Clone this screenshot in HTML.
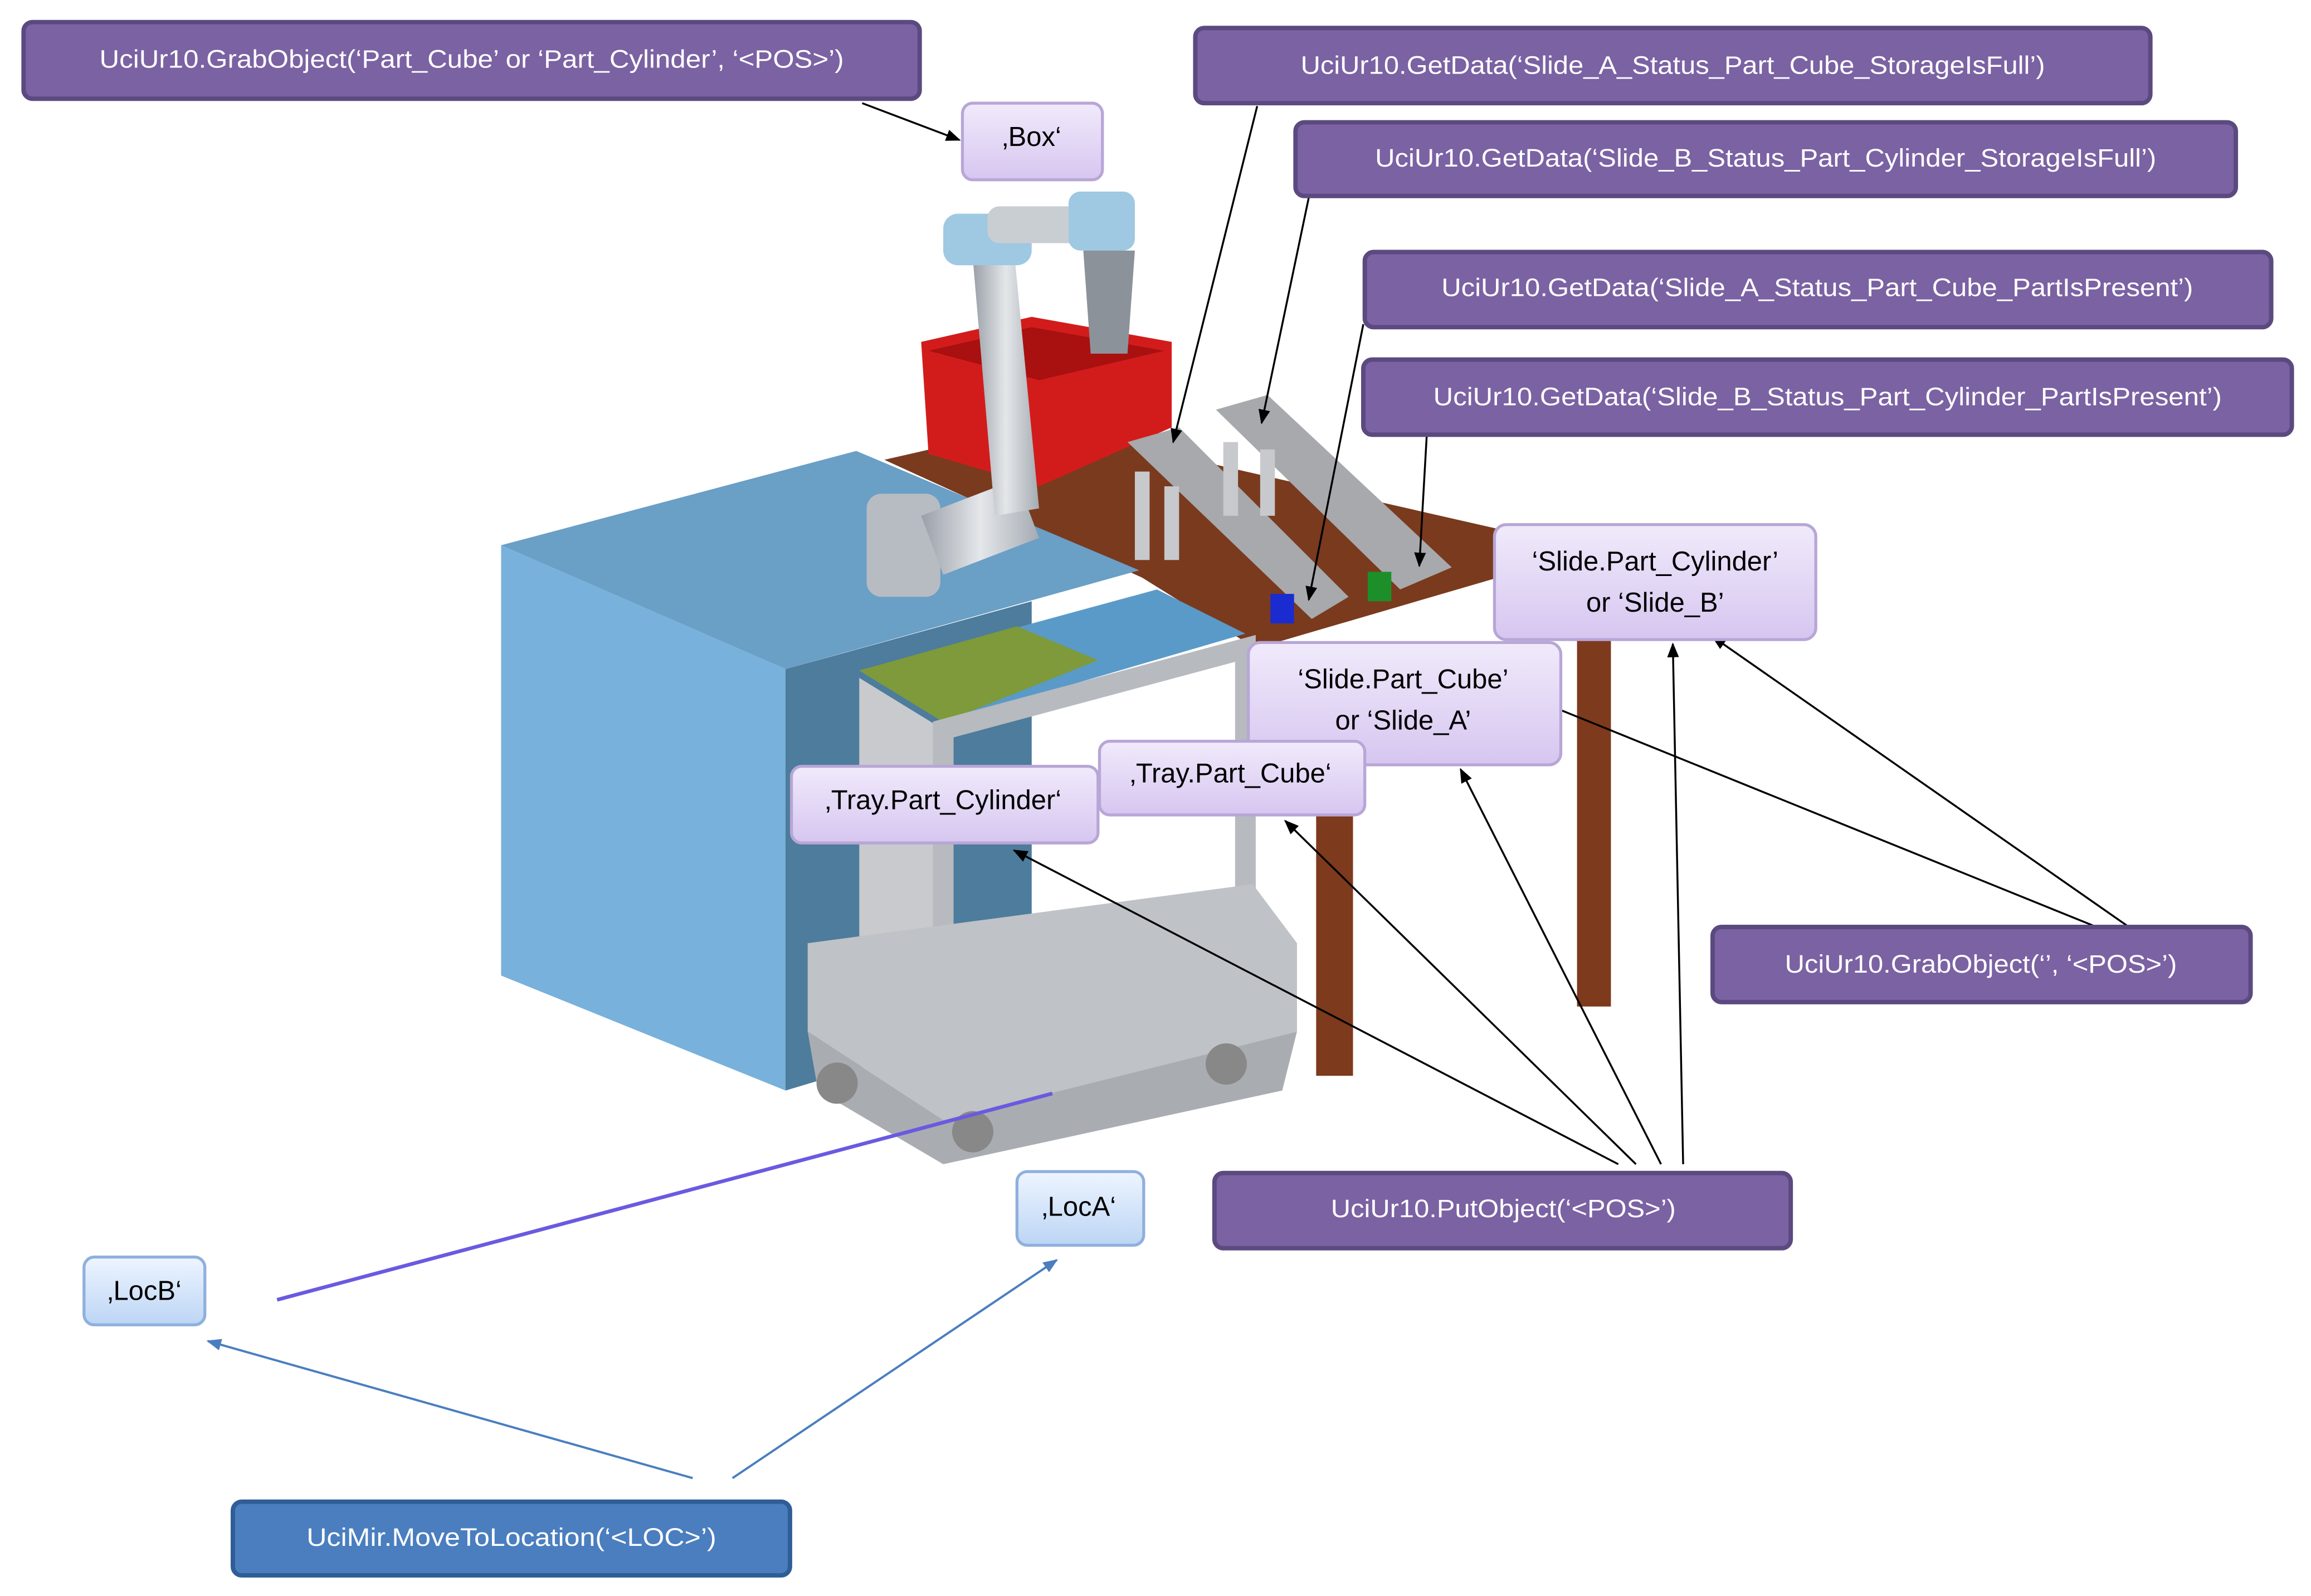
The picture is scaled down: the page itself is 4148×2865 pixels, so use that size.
<!DOCTYPE html>
<html><head><meta charset="utf-8"><style>
html,body{margin:0;padding:0;background:#fff;}
svg{display:block;}
text{font-family:"Liberation Sans",sans-serif;}
</style></head><body>
<svg width="4148" height="2865" viewBox="0 0 1568 1083" preserveAspectRatio="none" xmlns="http://www.w3.org/2000/svg">
<defs>
<marker id="ab" markerWidth="10" markerHeight="8" refX="9" refY="4" orient="auto" markerUnits="userSpaceOnUse"><path d="M0,0 L10,4 L0,8 z" fill="#000"/></marker>
<marker id="ablue" markerWidth="10" markerHeight="8" refX="9" refY="4" orient="auto" markerUnits="userSpaceOnUse"><path d="M0,0 L10,4 L0,8 z" fill="#4a7ebf"/></marker>
<linearGradient id="lp" x1="0" y1="0" x2="0" y2="1"><stop offset="0" stop-color="#f1eafb"/><stop offset="1" stop-color="#d6c6f0"/></linearGradient>
<linearGradient id="lb" x1="0" y1="0" x2="0" y2="1"><stop offset="0" stop-color="#eef5ff"/><stop offset="1" stop-color="#bcd5f5"/></linearGradient>
<linearGradient id="tube" x1="0" y1="0" x2="1" y2="0"><stop offset="0" stop-color="#9aa0a8"/><stop offset="0.5" stop-color="#e4e7ea"/><stop offset="1" stop-color="#a5abb2"/></linearGradient>
</defs>

<!-- table -->
<polygon points="600,312 705,288 1030,362 1040,385 852,440 775,392" fill="#7a3a1e"/>
<rect x="893" y="520" width="25" height="210" fill="#7d3a1c"/>
<rect x="1070" y="410" width="23" height="273" fill="#7d3a1c"/>
<!-- red box -->
<polygon points="625,232 700,215 795,232 795,290 705,330 630,308" fill="#d21c1c"/>
<polygon points="630,238 700,222 790,238 705,258" fill="#a91010"/>
<!-- slides -->
<polygon points="765,300 800,290 915,405 890,420" fill="#a7a9ac"/>
<polygon points="825,278 860,268 985,385 950,400" fill="#a7a9ac"/>
<rect x="770" y="320" width="10" height="60" fill="#c7c9cc"/>
<rect x="790" y="330" width="10" height="50" fill="#c7c9cc"/>
<rect x="830" y="300" width="10" height="50" fill="#c7c9cc"/>
<rect x="855" y="305" width="10" height="45" fill="#c7c9cc"/>
<rect x="862" y="403" width="16" height="20" fill="#1a2bd0"/>
<rect x="928" y="388" width="16" height="20" fill="#1d8f2a"/>
<!-- blue block -->
<polygon points="340,370 581,306 773,387 533,454" fill="#6a9fc6"/>
<polygon points="340,370 533,454 533,740 340,662" fill="#78b1db"/>
<polygon points="533,454 700,408 700,690 533,740" fill="#4d7c9c"/>
<!-- robot -->
<rect x="588" y="335" width="50" height="70" rx="10" fill="#b7bcc2"/>
<polygon points="625,350 690,325 705,365 640,390" fill="url(#tube)"/>
<polygon points="660,175 688,170 705,345 675,350" fill="url(#tube)"/>
<rect x="640" y="145" width="60" height="35" rx="10" fill="#9fc8e2"/>
<rect x="670" y="140" width="70" height="25" rx="8" fill="#c9ced3"/>
<rect x="725" y="130" width="45" height="40" rx="8" fill="#9fc8e2"/>
<polygon points="735,170 770,170 765,240 740,240" fill="#8c9299"/>
<!-- cart -->
<polygon points="583,455 785,400 845,430 640,490" fill="#5a9ac8"/>
<polygon points="583,455 690,425 745,448 640,490" fill="#7e9a3a"/>
<polygon points="583,460 640,495 640,670 583,640" fill="#c8cacd"/>
<polygon points="640,495 845,440 845,640 640,670" fill="none" stroke="#b7babf" stroke-width="14"/>
<polygon points="548,640 850,600 880,640 880,700 640,760 548,700" fill="#bfc2c6"/>
<polygon points="548,700 640,760 880,700 870,740 640,790 555,740" fill="#a9adb2"/>
<circle cx="568" cy="735" r="14" fill="#888"/>
<circle cx="660" cy="768" r="14" fill="#888"/>
<circle cx="832" cy="722" r="14" fill="#888"/>
<!-- blue motion line -->
<line x1="188" y1="882" x2="714" y2="742" stroke="#6a5ae0" stroke-width="2.5"/>

<!-- connectors -->
<g stroke="#000" stroke-width="1.3" fill="none" marker-end="url(#ab)">
<line x1="585" y1="70" x2="651" y2="95"/>
<line x1="853" y1="72" x2="796" y2="300"/>
<line x1="888" y1="134" x2="856" y2="287"/>
<line x1="925" y1="220" x2="888" y2="407"/>
<line x1="968" y1="296" x2="963" y2="384"/>
<line x1="1443" y1="628" x2="1162" y2="432"/>
<line x1="1420" y1="628" x2="1047" y2="477"/>
<line x1="1098" y1="790" x2="688" y2="577"/>
<line x1="1110" y1="790" x2="872" y2="557"/>
<line x1="1127" y1="790" x2="991" y2="522"/>
<line x1="1142" y1="790" x2="1135" y2="437"/>
</g>
<g stroke="#4a7ebf" stroke-width="1.5" fill="none" marker-end="url(#ablue)">
<line x1="470" y1="1003" x2="141" y2="910"/>
<line x1="497" y1="1003" x2="717" y2="855"/>
</g>

<!-- dark purple boxes -->
<g fill="#7b62a3" stroke="#5b4a80" stroke-width="3">
<rect x="16" y="15" width="608" height="52" rx="6"/>
<rect x="811" y="19" width="648" height="51" rx="6"/>
<rect x="879" y="83" width="638" height="50" rx="6"/>
<rect x="926" y="171" width="615" height="51" rx="6"/>
<rect x="925" y="244" width="630" height="51" rx="6"/>
<rect x="1162" y="629" width="365" height="51" rx="6"/>
<rect x="824" y="796" width="391" height="51" rx="6"/>
</g>
<rect x="158" y="1019" width="378" height="50" rx="6" fill="#4a7ebf" stroke="#2f5d96" stroke-width="3"/>
<g fill="#fff" font-size="17" text-anchor="middle" lengthAdjust="spacingAndGlyphs">
<text x="320" y="46" textLength="505" lengthAdjust="spacingAndGlyphs">UciUr10.GrabObject(‘Part_Cube’ or ‘Part_Cylinder’, ‘&lt;POS&gt;’)</text>
<text x="1135" y="50" textLength="505" lengthAdjust="spacingAndGlyphs">UciUr10.GetData(‘Slide_A_Status_Part_Cube_StorageIsFull’)</text>
<text x="1198" y="113" textLength="530" lengthAdjust="spacingAndGlyphs">UciUr10.GetData(‘Slide_B_Status_Part_Cylinder_StorageIsFull’)</text>
<text x="1233" y="201" textLength="510" lengthAdjust="spacingAndGlyphs">UciUr10.GetData(‘Slide_A_Status_Part_Cube_PartIsPresent’)</text>
<text x="1240" y="275" textLength="535" lengthAdjust="spacingAndGlyphs">UciUr10.GetData(‘Slide_B_Status_Part_Cylinder_PartIsPresent’)</text>
<text x="1344" y="660" textLength="266" lengthAdjust="spacingAndGlyphs">UciUr10.GrabObject(‘’, ‘&lt;POS&gt;’)</text>
<text x="1020" y="826" textLength="234" lengthAdjust="spacingAndGlyphs">UciUr10.PutObject(‘&lt;POS&gt;’)</text>
<text x="347" y="1049" textLength="278" lengthAdjust="spacingAndGlyphs">UciMir.MoveToLocation(‘&lt;LOC&gt;’)</text>
</g>

<!-- light purple -->
<g fill="url(#lp)" stroke="#b7a6d6" stroke-width="2">
<rect x="653" y="70" width="95" height="52" rx="7"/>
<rect x="1014" y="356" width="218" height="78" rx="8"/>
<rect x="847" y="436" width="212" height="83" rx="8"/>
<rect x="537" y="520" width="208" height="52" rx="7"/>
<rect x="746" y="503" width="180" height="50" rx="7"/>
</g>
<g fill="url(#lb)" stroke="#8fb0dc" stroke-width="2">
<rect x="690" y="795" width="86" height="50" rx="7"/>
<rect x="57" y="853" width="82" height="46" rx="7"/>
</g>
<g fill="#000" font-size="18.5" text-anchor="middle">
<text x="700" y="99">‚Box‘</text>
<text x="1123" y="387">‘Slide.Part_Cylinder’</text>
<text x="1123" y="415">or ‘Slide_B’</text>
<text x="952" y="467">‘Slide.Part_Cube’</text>
<text x="952" y="495">or ‘Slide_A’</text>
<text x="640" y="549">‚Tray.Part_Cylinder‘</text>
<text x="835" y="531">‚Tray.Part_Cube‘</text>
<text x="732" y="825">‚LocA‘</text>
<text x="98" y="882">‚LocB‘</text>
</g>
</svg>
</body></html>
